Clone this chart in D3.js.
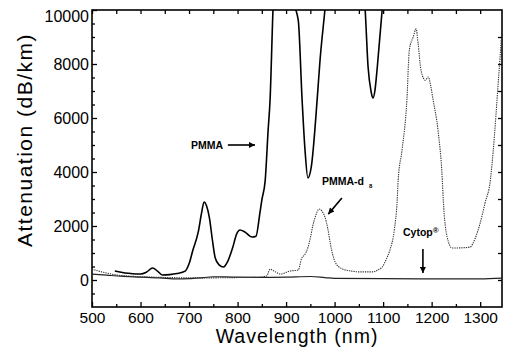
<!DOCTYPE html>
<html>
<head>
<meta charset="utf-8">
<script src="https://cdn.jsdelivr.net/npm/d3@7"></script>
<style>
  body { margin: 0; background: #fff; }
  svg { display: block; font-family: "Liberation Sans", Arial, Helvetica, sans-serif; }
</style>
</head>
<body>
<div id="chart"></div>
<script>
// attenuation spectra, [wavelength nm, dB/km]; values above 10000 run off the top
const pmma = [[547,333],[560,290],[575,250],[590,225],[600,222],[612,290],[625,444],[635,330],[645,185],
  [660,200],[675,240],[692,330],[700,600],[708,1110],[719,1780],[726,2500],[731,2890],[736,2750],[742,2300],
  [748,1500],[754,815],[762,560],[771,480],[780,700],[790,1200],[798,1700],[805,1850],[815,1780],[830,1590],
  [838,1620],[846,2480],[850,2960],[857,3700],[863,5550],[867,6670],[873,10000],[880,12500],[895,12500],
  [900,11000],[925,9630],[933,6670],[939,4815],[945,3780],[952,4200],[964,6670],[970,8150],[980,10000],
  [990,12000],[1050,12000],[1063,10000],[1069,7890],[1075,7000],[1079,6740],[1083,7000],[1088,7890],
  [1098,10000],[1110,12000],[1345,12000]];

const pmmaD8 = [[500,400],[520,300],[551,185],[580,140],[620,110],[660,90],[700,80],[750,80],[800,90],
  [840,100],[860,150],[867,400],[873,350],[880,280],[888,220],[908,330],[925,370],[932,800],[939,950],
  [945,1200],[950,1555],[955,2000],[960,2330],[968,2630],[974,2550],[980,2330],[986,1900],[991,1370],
  [996,950],[1001,667],[1008,500],[1017,400],[1035,330],[1050,300],[1079,300],[1090,380],[1098,480],
  [1106,750],[1114,1110],[1123,1850],[1129,2960],[1131,3700],[1139,4815],[1149,6670],[1154,8520],
  [1162,9000],[1168,9300],[1172,8780],[1178,7780],[1187,7400],[1193,7520],[1198,7200],[1203,6670],
  [1213,5560],[1222,3700],[1224,2960],[1232,1590],[1242,1185],[1260,1190],[1279,1220],[1290,1555],
  [1300,2110],[1310,2850],[1321,3700],[1327,4815],[1338,7500],[1345,9260]];

const cytop = [[500,220],[530,180],[560,140],[600,110],[640,80],[675,40],[700,50],[730,90],[750,120],
  [790,110],[850,100],[900,110],[950,130],[980,90],[1000,60],[1100,50],[1200,40],[1300,40],[1345,70]];

const xMajor = [500, 600, 700, 800, 900, 1000, 1100, 1200, 1300];
const yMajor = [0, 2000, 4000, 6000, 8000, 10000];

// labels and arrows, anchored in data units
const labels = [
  {text: "PMMA", x: 770, y: 5000, anchor: "end"},
  {text: "PMMA-d", sub: "8", x: 974, y: 3670, anchor: "start"},
  {text: "Cytop", sup: "®", x: 1141, y: 1780, anchor: "start"}
];
const arrows = [
  {x1: 780, y1: 5000, x2: 836, y2: 5000},
  {x1: 1015, y1: 3040, x2: 987, y2: 2440},
  {x1: 1182, y1: 1150, x2: 1182, y2: 260}
];

const W = 505, H = 359;
const margin = {top: 10, right: 3, bottom: 52, left: 92};

const svg = d3.select("#chart").append("svg")
  .attr("width", W)
  .attr("height", H);

const x = d3.scaleLinear().domain([500, 1345]).range([margin.left, W - margin.right]);
const y = d3.scaleLinear().domain([-1000, 10000]).range([H - margin.bottom, margin.top]);

const x0 = x.range()[0], x1 = x.range()[1];
const y0 = y.range()[1], y1 = y.range()[0];

svg.append("defs").append("clipPath").attr("id", "plot")
  .append("rect")
  .attr("x", x0).attr("y", y0)
  .attr("width", x1 - x0).attr("height", y1 - y0);

svg.select("defs").append("marker")
  .attr("id", "head")
  .attr("viewBox", "0 0 10 10")
  .attr("refX", 10).attr("refY", 5)
  .attr("markerWidth", 8).attr("markerHeight", 6)
  .attr("markerUnits", "userSpaceOnUse")
  .attr("orient", "auto")
  .append("path").attr("d", "M0,0L10,5L0,10Z").attr("fill", "#000");

// axes, ticks pointing inward
function tickAxis(axis, pos, vals, size, withLabels) {
  const g = svg.append("g").attr("transform", pos)
    .call(axis.tickValues(vals).tickSize(-size).tickFormat(withLabels ? d3.format("d") : ""));
  g.select(".domain").remove();
  g.selectAll("line").attr("stroke", "#000").attr("stroke-width", 1.3);
  return g;
}

const minorX = d3.range(550, 1345, 100);
const minorY = d3.range(-500, 10000, 500).filter(v => v % 2000 !== 0);

const gx = tickAxis(d3.axisBottom(x).tickPadding(5), `translate(0,${y1})`, xMajor, 5, true);
gx.selectAll("text").attr("font-size", 15.5).attr("fill", "#000");
tickAxis(d3.axisBottom(x), `translate(0,${y1})`, minorX, 3, false);
tickAxis(d3.axisTop(x), `translate(0,${y0})`, d3.range(500, 1345, 50), 4, false);

const gy = tickAxis(d3.axisLeft(y).tickPadding(3), `translate(${x0},0)`, yMajor, 5, true);
gy.selectAll("text").attr("font-size", 16).attr("fill", "#000");
// top label sits a little below the frame, as in the original
gy.selectAll("text").filter(d => d === 10000).attr("dy", "0.7em");
tickAxis(d3.axisLeft(y), `translate(${x0},0)`, minorY, 3, false);
tickAxis(d3.axisRight(y), `translate(${x1},0)`, d3.range(0, 10000, 1000), 4, false);

svg.append("rect")
  .attr("x", x0).attr("y", y0)
  .attr("width", x1 - x0).attr("height", y1 - y0)
  .attr("fill", "none").attr("stroke", "#000").attr("stroke-width", 1.6);

// curves
const line = d3.line().x(d => x(d[0])).y(d => y(d[1])).curve(d3.curveMonotoneX);
const curves = svg.append("g").attr("clip-path", "url(#plot)");

curves.append("path").datum(cytop)
  .attr("d", line).attr("fill", "none")
  .attr("stroke", "#222").attr("stroke-width", 1.2);

curves.append("path").datum(pmmaD8)
  .attr("d", line).attr("fill", "none")
  .attr("stroke", "#333").attr("stroke-width", 1.1)
  .attr("stroke-dasharray", "1.3,1");

curves.append("path").datum(pmma)
  .attr("d", line).attr("fill", "none")
  .attr("stroke", "#000").attr("stroke-width", 1.6);

// annotations
const lab = svg.selectAll(".lab").data(labels).enter()
  .append("text")
  .attr("class", "lab")
  .attr("x", d => x(d.x))
  .attr("y", d => y(d.y))
  .attr("dy", "0.35em")
  .attr("text-anchor", d => d.anchor)
  .attr("font-size", 10.5)
  .attr("font-weight", "bold")
  .text(d => d.text);

lab.filter(d => d.sub).append("tspan")
  .attr("dx", 5).attr("dy", 3).attr("font-size", 6)
  .text(d => d.sub);
lab.filter(d => d.sup).append("tspan")
  .attr("dy", -3).attr("font-size", 8)
  .text(d => d.sup);

svg.selectAll(".arrow").data(arrows).enter()
  .append("line")
  .attr("class", "arrow")
  .attr("x1", d => x(d.x1)).attr("y1", d => y(d.y1))
  .attr("x2", d => x(d.x2)).attr("y2", d => y(d.y2))
  .attr("stroke", "#000").attr("stroke-width", 1.6)
  .attr("marker-end", "url(#head)");

// axis titles
svg.append("text")
  .attr("x", (x0 + x1) / 2)
  .attr("y", 343)
  .attr("text-anchor", "middle")
  .attr("font-size", 19.5)
  .attr("letter-spacing", 1)
  .text("Wavelength (nm)");

svg.append("text")
  .attr("transform", "rotate(-90)")
  .attr("x", -140)
  .attr("y", 32)
  .attr("text-anchor", "middle")
  .attr("font-size", 21)
  .attr("letter-spacing", 1.5)
  .text("Attenuation (dB/km)");
</script>
</body>
</html>
